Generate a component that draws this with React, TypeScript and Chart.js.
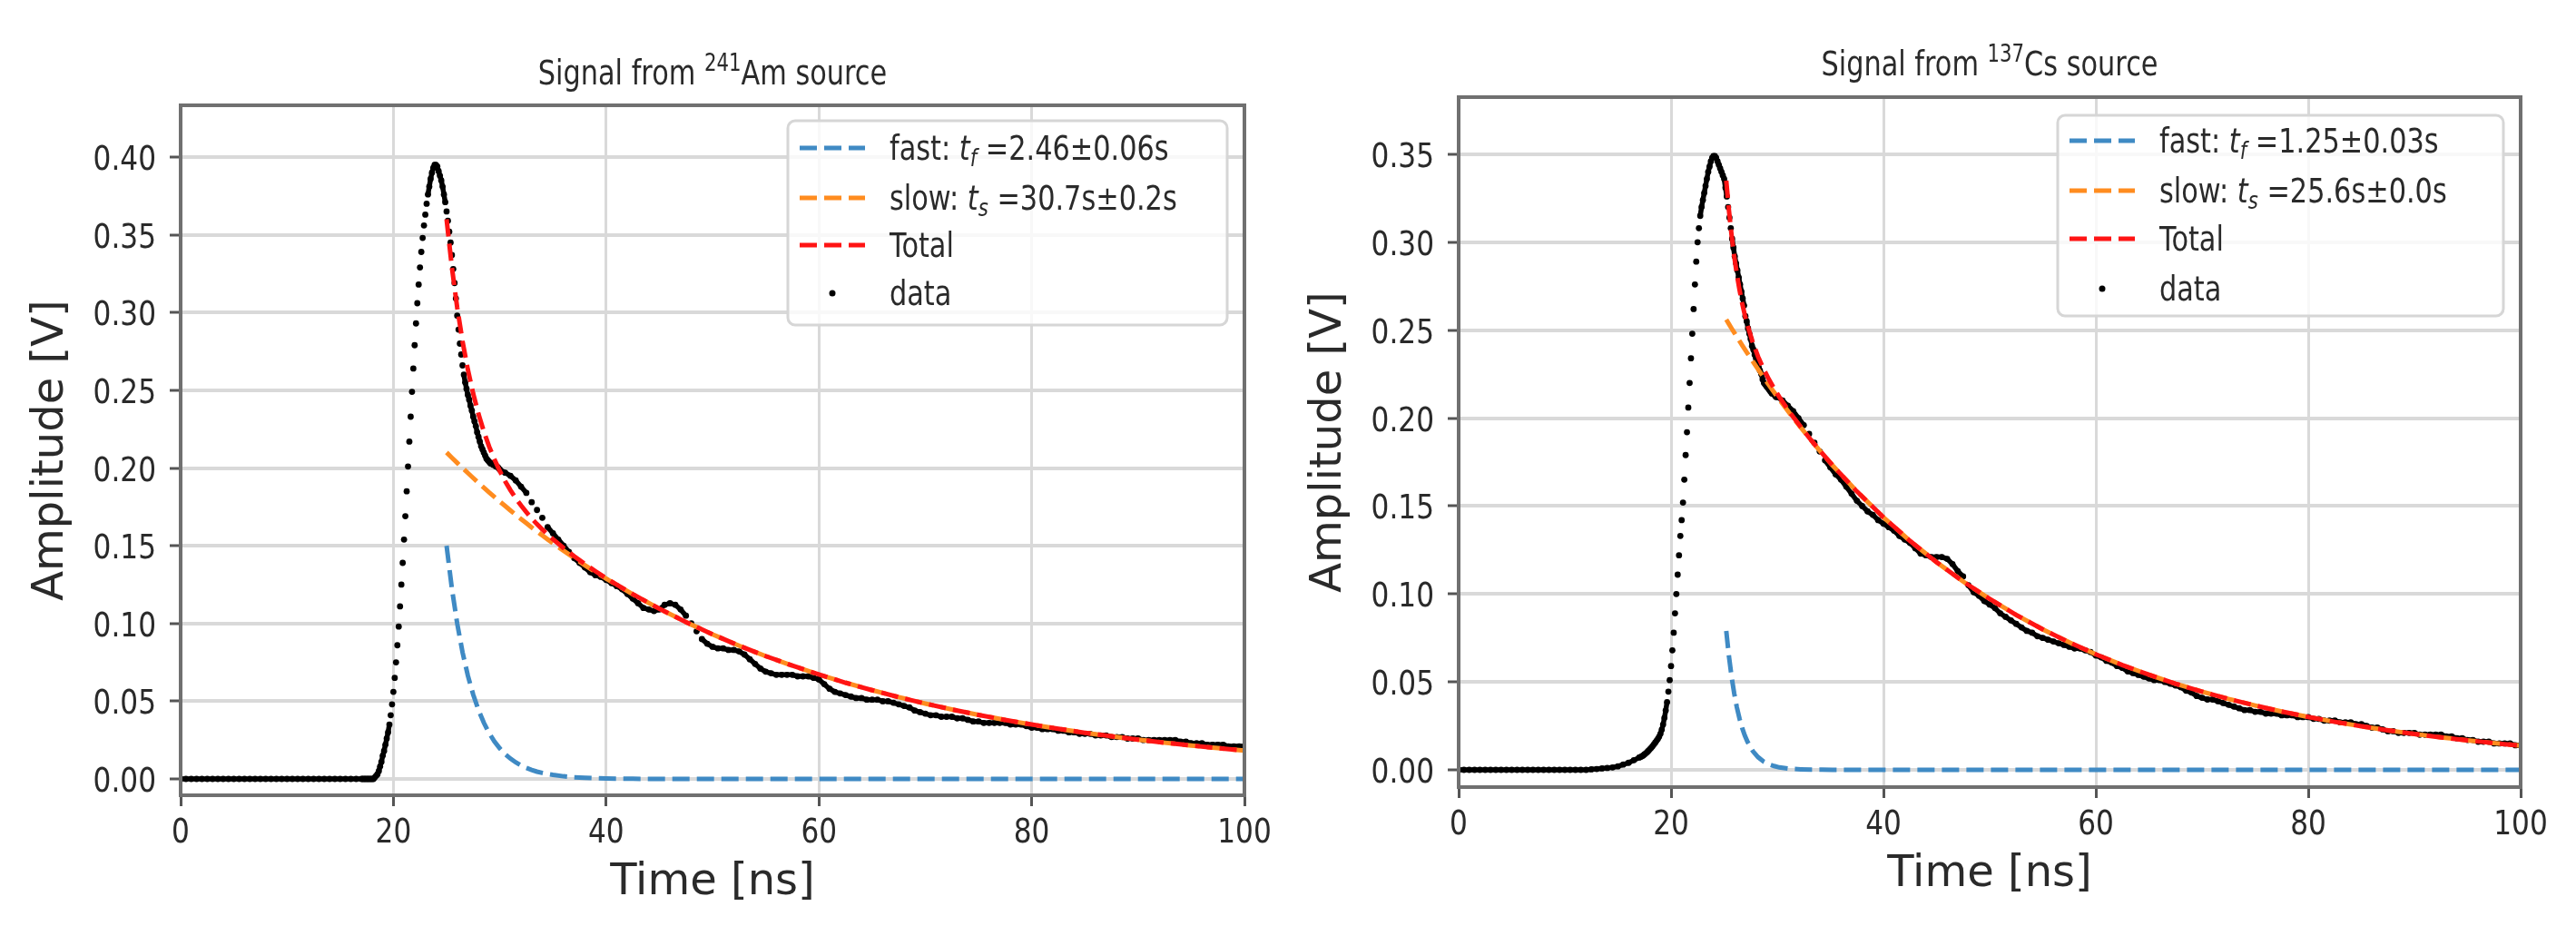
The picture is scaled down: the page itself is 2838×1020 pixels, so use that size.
import React, { useEffect, useRef } from "react";
import { Chart, registerables } from "chart.js";
Chart.register(...registerables);

// ---------------- data ----------------
// oscilloscope sample grid (ns): coarse baseline, fine around the pulse, medium on the tail
function sampleTimes(start: number, step: number, count: number): number[] {
  const out: number[] = [];
  for (let i = 0; i < count; i++) out.push(Math.round((start + i * step) * 1000) / 1000);
  return out;
}
const tData = [...sampleTimes(0, 0.5, 35), ...sampleTimes(17.125, 0.125, 104), ...sampleTimes(30.5, 0.5, 140)];

const amBaseline = [
  0, 0, 0, 0, 0, 0, 0, 0, 0, 0, 0, 0, 0, 0, 0, 0, 0, 0, 0, 0, 0, 0, 0, 0, 0, 0, 0, 0, 0, 0, 0, 0, 0, 0, 0,
];
const amPulse = [
  0, 0, 0, 0, 0, 0, 0, 0,
  0, 0.001, 0.002, 0.003, 0.005, 0.008, 0.011, 0.015,
  0.018, 0.022, 0.026, 0.03, 0.035, 0.041, 0.048, 0.056,
  0.065, 0.075, 0.086, 0.098, 0.111, 0.125, 0.139, 0.154,
  0.169, 0.185, 0.201, 0.217, 0.233, 0.249, 0.264, 0.279,
  0.293, 0.306, 0.318, 0.329, 0.339, 0.348, 0.356, 0.363,
  0.37, 0.376, 0.381, 0.386, 0.39, 0.393, 0.395, 0.395,
  0.394, 0.391, 0.388, 0.385, 0.381, 0.376, 0.371, 0.365,
  0.359, 0.352, 0.345, 0.337, 0.328, 0.319, 0.309, 0.298,
  0.289, 0.28, 0.273, 0.266, 0.26, 0.255, 0.251, 0.247,
  0.244, 0.24, 0.237, 0.233, 0.23, 0.227, 0.223, 0.22,
  0.217, 0.214, 0.212, 0.21, 0.208, 0.206, 0.205, 0.204,
  0.203, 0.203, 0.202, 0.202, 0.201, 0.201, 0.2, 0.199,
];
const amTail = [
  0.197, 0.195, 0.192, 0.188, 0.184, 0.178, 0.173, 0.168, 0.162, 0.158,
  0.154, 0.15, 0.146, 0.142, 0.139, 0.136, 0.133, 0.131, 0.13, 0.128,
  0.126, 0.124, 0.122, 0.119, 0.116, 0.113, 0.11, 0.109, 0.108, 0.109,
  0.112, 0.113, 0.112, 0.109, 0.105, 0.1, 0.095, 0.09, 0.087, 0.085,
  0.084, 0.084, 0.083, 0.083, 0.082, 0.08, 0.077, 0.074, 0.071, 0.069,
  0.068, 0.067, 0.067, 0.067, 0.067, 0.066, 0.066, 0.066, 0.065, 0.064,
  0.061, 0.058, 0.056, 0.055, 0.054, 0.053, 0.052, 0.052, 0.051, 0.051,
  0.051, 0.05, 0.05, 0.049, 0.048, 0.047, 0.046, 0.044, 0.043, 0.042,
  0.041, 0.041, 0.04, 0.04, 0.04, 0.039, 0.039, 0.038, 0.037, 0.037,
  0.036, 0.036, 0.036, 0.036, 0.036, 0.035, 0.035, 0.035, 0.034, 0.033,
  0.033, 0.032, 0.032, 0.032, 0.031, 0.031, 0.03, 0.03, 0.029, 0.029,
  0.029, 0.028, 0.028, 0.028, 0.027, 0.027, 0.027, 0.026, 0.026, 0.026,
  0.025, 0.025, 0.025, 0.025, 0.025, 0.025, 0.025, 0.024, 0.024, 0.023,
  0.023, 0.023, 0.022, 0.022, 0.022, 0.022, 0.021, 0.021, 0.021, 0.021,
];

const csBaseline = [
  0, 0, 0, 0, 0, 0, 0, 0, 0, 0, 0, 0, 0, 0, 0, 0, 0, 0, 0, 0, 0, 0, 0, 0, 0,
  0.0003, 0.0005, 0.0008, 0.0011, 0.0014, 0.002, 0.003, 0.004, 0.0055, 0.007,
];
const csPulse = [
  0.0073, 0.0077, 0.0082, 0.0088, 0.0094, 0.0101, 0.0109, 0.0117,
  0.0125, 0.0134, 0.0144, 0.0154, 0.0165, 0.0175, 0.0188, 0.0205,
  0.0228, 0.0258, 0.0295, 0.0338, 0.0385, 0.0445, 0.051, 0.059,
  0.068, 0.078, 0.089, 0.1, 0.111, 0.122, 0.133, 0.142,
  0.152, 0.165, 0.179, 0.192, 0.206, 0.22, 0.234, 0.248,
  0.262, 0.276, 0.289, 0.3, 0.308, 0.315, 0.32, 0.324,
  0.328, 0.332, 0.336, 0.34, 0.343, 0.346, 0.348, 0.349,
  0.349, 0.348, 0.346, 0.344, 0.342, 0.34, 0.338, 0.336,
  0.331, 0.326, 0.32, 0.314, 0.308, 0.302, 0.297, 0.292,
  0.288, 0.284, 0.28, 0.276, 0.272, 0.268, 0.264, 0.258,
  0.255, 0.251, 0.248, 0.245, 0.241, 0.239, 0.236, 0.234,
  0.231, 0.229, 0.227, 0.225, 0.222, 0.22, 0.219, 0.218,
  0.217, 0.216, 0.215, 0.214, 0.214, 0.213, 0.212, 0.212,
];
const csTail = [
  0.21, 0.207, 0.204, 0.2, 0.196, 0.191, 0.186, 0.181, 0.176, 0.172,
  0.168, 0.165, 0.161, 0.157, 0.153, 0.15, 0.147, 0.145, 0.142, 0.14,
  0.138, 0.136, 0.133, 0.131, 0.129, 0.126, 0.123, 0.122, 0.121, 0.121,
  0.121, 0.12, 0.117, 0.113, 0.11, 0.105, 0.101, 0.099, 0.096, 0.094,
  0.092, 0.089, 0.087, 0.085, 0.083, 0.081, 0.079, 0.078, 0.076, 0.075,
  0.074, 0.073, 0.072, 0.071, 0.07, 0.069, 0.069, 0.068, 0.067, 0.065,
  0.064, 0.062, 0.061, 0.059, 0.058, 0.056, 0.055, 0.054, 0.053, 0.052,
  0.051, 0.051, 0.05, 0.049, 0.048, 0.047, 0.045, 0.044, 0.042, 0.041,
  0.04, 0.04, 0.039, 0.038, 0.037, 0.036, 0.035, 0.034, 0.034, 0.033,
  0.033, 0.032, 0.032, 0.032, 0.031, 0.031, 0.031, 0.03, 0.03, 0.03,
  0.029, 0.029, 0.028, 0.028, 0.028, 0.027, 0.027, 0.027, 0.026, 0.026,
  0.025, 0.024, 0.024, 0.023, 0.022, 0.022, 0.021, 0.021, 0.021, 0.021,
  0.02, 0.02, 0.02, 0.02, 0.02, 0.019, 0.019, 0.018, 0.018, 0.017,
  0.017, 0.016, 0.016, 0.016, 0.015, 0.015, 0.015, 0.015, 0.014, 0.014,
];

// fitted components
const tFitAm = [25, 25.5, 26, 26.5, 27, 27.5, 28, 28.5, 29, 29.5, 30, 30.5, 31, 31.5, 32, 32.5, 33, 33.5, 34, 34.5, 35,
  36, 37, 38, 39, 40, 42.5, 45, 47.5, 50, 52.5, 55, 57.5, 60, 62.5, 65, 67.5, 70, 72.5, 75, 77.5, 80, 82.5, 85, 87.5, 90, 92.5, 95, 97.5, 100];
const fastAm = [0.15, 0.1224, 0.0999, 0.0815, 0.0665, 0.0543, 0.0443, 0.0362, 0.0295, 0.0241, 0.0197, 0.016, 0.0131, 0.0107,
  0.0087, 0.0071, 0.0058, 0.0047, 0.0039, 0.0032, 0.0026, 0.0017, 0.0011, 0.0008, 0.0005, 0.0003, 0.0001,
  0, 0, 0, 0, 0, 0, 0, 0, 0, 0, 0, 0, 0, 0, 0, 0, 0, 0, 0, 0, 0, 0, 0];
const slowAm = [0.21, 0.2066, 0.2033, 0.2, 0.1968, 0.1936, 0.1904, 0.1874, 0.1843, 0.1814, 0.1784, 0.1756, 0.1727, 0.1699,
  0.1672, 0.1645, 0.1618, 0.1592, 0.1566, 0.1541, 0.1516, 0.1468, 0.1421, 0.1375, 0.1331, 0.1288, 0.1188, 0.1095, 0.1009,
  0.093, 0.0857, 0.079, 0.0729, 0.0672, 0.0619, 0.0571, 0.0526, 0.0485, 0.0447, 0.0412, 0.038, 0.035, 0.0323, 0.0297,
  0.0274, 0.0253, 0.0233, 0.0215, 0.0198, 0.0183];
const totalAm = [0.36, 0.329, 0.3032, 0.2815, 0.2633, 0.2479, 0.2347, 0.2236, 0.2138, 0.2055, 0.1981, 0.1916, 0.1858, 0.1806,
  0.1759, 0.1716, 0.1676, 0.1639, 0.1605, 0.1573, 0.1542, 0.1485, 0.1432, 0.1383, 0.1336, 0.1291, 0.1189, 0.1095, 0.1009,
  0.093, 0.0857, 0.079, 0.0729, 0.0672, 0.0619, 0.0571, 0.0526, 0.0485, 0.0447, 0.0412, 0.038, 0.035, 0.0323, 0.0297,
  0.0274, 0.0253, 0.0233, 0.0215, 0.0198, 0.0183];

const tFitCs = [25.2, 25.45, 25.7, 25.95, 26.2, 26.45, 26.7, 26.95, 27.2, 27.7, 28.2, 28.7, 29.2, 29.7, 30.2, 31.2, 32.2, 33.2,
  34.2, 35.2, 37.5, 40, 42.5, 45, 47.5, 50, 52.5, 55, 57.5, 60, 62.5, 65, 67.5, 70, 72.5, 75, 77.5, 80, 82.5, 85, 87.5, 90,
  92.5, 95, 97.5, 100];
const fastCs = [0.079, 0.0647, 0.053, 0.0434, 0.0355, 0.0291, 0.0238, 0.0195, 0.016, 0.0107, 0.0072, 0.0048, 0.0032, 0.0022,
  0.0014, 0.0006, 0.0003, 0.0001, 0.0001, 0,
  0, 0, 0, 0, 0, 0, 0, 0, 0, 0, 0, 0, 0, 0, 0, 0, 0, 0, 0, 0, 0, 0, 0, 0, 0, 0];
const slowCs = [0.256, 0.2535, 0.251, 0.2486, 0.2462, 0.2438, 0.2414, 0.2391, 0.2368, 0.2322, 0.2277, 0.2233, 0.219, 0.2147,
  0.2106, 0.2025, 0.1948, 0.1873, 0.1801, 0.1732, 0.1583, 0.1436, 0.1302, 0.1181, 0.1071, 0.0972, 0.0881, 0.0799, 0.0725,
  0.0657, 0.0596, 0.0541, 0.049, 0.0445, 0.0403, 0.0366, 0.0332, 0.0301, 0.0273, 0.0248, 0.0225, 0.0204, 0.0185, 0.0168,
  0.0152, 0.0138];
const totalCs = [0.335, 0.3182, 0.304, 0.292, 0.2817, 0.2729, 0.2652, 0.2586, 0.2528, 0.2429, 0.2349, 0.2281, 0.2222, 0.2169,
  0.212, 0.2031, 0.1951, 0.1874, 0.1802, 0.1732, 0.1583, 0.1436, 0.1302, 0.1181, 0.1071, 0.0972, 0.0881, 0.0799, 0.0725,
  0.0657, 0.0596, 0.0541, 0.049, 0.0445, 0.0403, 0.0366, 0.0332, 0.0301, 0.0273, 0.0248, 0.0225, 0.0204, 0.0185, 0.0168,
  0.0152, 0.0138];

const xTicks = [0, 20, 40, 60, 80, 100];
const xTickLabels = ["0", "20", "40", "60", "80", "100"];
const yTicksAm = [0, 0.05, 0.1, 0.15, 0.2, 0.25, 0.3, 0.35, 0.4];
const yTickLabelsAm = ["0.00", "0.05", "0.10", "0.15", "0.20", "0.25", "0.30", "0.35", "0.40"];
const yTicksCs = [0, 0.05, 0.1, 0.15, 0.2, 0.25, 0.3, 0.35];
const yTickLabelsCs = ["0.00", "0.05", "0.10", "0.15", "0.20", "0.25", "0.30", "0.35"];

type Seg = { t: string; i?: boolean; sub?: boolean; sup?: boolean };
const titleAm: Seg[] = [{ t: "Signal from " }, { t: "241", sup: true }, { t: "Am source" }];
const titleCs: Seg[] = [{ t: "Signal from " }, { t: "137", sup: true }, { t: "Cs source" }];
const legendAm: Seg[][] = [
  [{ t: "fast: " }, { t: "t", i: true }, { t: "f", i: true, sub: true }, { t: " =2.46±0.06s" }],
  [{ t: "slow: " }, { t: "t", i: true }, { t: "s", i: true, sub: true }, { t: " =30.7s±0.2s" }],
  [{ t: "Total" }],
  [{ t: "data" }],
];
const legendCs: Seg[][] = [
  [{ t: "fast: " }, { t: "t", i: true }, { t: "f", i: true, sub: true }, { t: " =1.25±0.03s" }],
  [{ t: "slow: " }, { t: "t", i: true }, { t: "s", i: true, sub: true }, { t: " =25.6s±0.0s" }],
  [{ t: "Total" }],
  [{ t: "data" }],
];

// ---------------- styling ----------------
const FONT = '"DejaVu Sans", "Noto Sans", sans-serif';
const TEXT = "#2a2a2a";
const SQ = 0.82;
const C_FAST = "#3f8ac4";
const C_SLOW = "#ff8c1f";
const C_TOTAL = "#ff1414";
const GRID = "#d9d9d9";
const SPINE = "#707070";
const H = 1020;

function drawRich(ctx: CanvasRenderingContext2D, segs: Seg[], x: number, y: number, size: number,
  align: "left" | "center" | "right", sq = SQ) {
  ctx.save();
  ctx.fillStyle = TEXT;
  ctx.textBaseline = "alphabetic";
  ctx.textAlign = "left";
  const parts = segs.map((s) => {
    const fs = s.sub || s.sup ? size * 0.7 : size;
    const font = `${s.i ? "italic " : ""}${fs}px ${FONT}`;
    ctx.font = font;
    const dy = s.sub ? size * 0.2 : s.sup ? -size * 0.4 : 0;
    return { t: s.t, font, dy, w: ctx.measureText(s.t).width };
  });
  const total = parts.reduce((a, p) => a + p.w, 0);
  let x0 = align === "center" ? -total / 2 : align === "right" ? -total : 0;
  ctx.translate(x, y);
  ctx.scale(sq, 1);
  for (const p of parts) {
    ctx.font = p.font;
    ctx.fillText(p.t, x0, p.dy);
    x0 += p.w;
  }
  ctx.restore();
}

type Panel = {
  left: number; width: number;
  area: { left: number; right: number; top: number; bottom: number };
  yMin: number; yMax: number; yTicks: number[]; yLabels: string[];
  title: Seg[]; titleBase: number;
  legend: { x: number; y: number; w: number; h: number; rows: number[] };
  legendText: Seg[][];
  data: number[]; tFit: number[]; fast: number[]; slow: number[]; total: number[];
};

const panels: Panel[] = [
  {
    left: 0, width: 1420,
    area: { left: 199, right: 1371, top: 116, bottom: 876 },
    yMin: -0.0105, yMax: 0.4333, yTicks: yTicksAm, yLabels: yTickLabelsAm,
    title: titleAm, titleBase: 93,
    legend: { x: 868, y: 133, w: 484, h: 225, rows: [30, 85, 137, 190] },
    legendText: legendAm,
    data: [...amBaseline, ...amPulse, ...amTail], tFit: tFitAm, fast: fastAm, slow: slowAm, total: totalAm,
  },
  {
    left: 1420, width: 1418,
    area: { left: 187, right: 1357, top: 107, bottom: 867 },
    yMin: -0.0098, yMax: 0.3825, yTicks: yTicksCs, yLabels: yTickLabelsCs,
    title: titleCs, titleBase: 83,
    legend: { x: 847, y: 127, w: 491, h: 221, rows: [28, 83, 136, 191] },
    legendText: legendCs,
    data: [...csBaseline, ...csPulse, ...csTail], tFit: tFitCs, fast: fastCs, slow: slowCs, total: totalCs,
  },
];

function makeChart(canvas: HTMLCanvasElement, p: Panel) {
  const a = p.area;
  const decor = {
    id: "mplDecor",
    afterDatasetsDraw(chart: any) {
      const ctx = chart.ctx as CanvasRenderingContext2D;
      const ca = chart.chartArea;
      ctx.save();
      ctx.strokeStyle = SPINE;
      ctx.lineWidth = 4;
      ctx.strokeRect(ca.left, ca.top, ca.right - ca.left, ca.bottom - ca.top);
      ctx.restore();
    },
    afterDraw(chart: any) {
      const ctx = chart.ctx as CanvasRenderingContext2D;
      const ca = chart.chartArea;
      const xs = chart.scales.x, ys = chart.scales.y;
      const cx = (ca.left + ca.right) / 2;
      // title
      drawRich(ctx, p.title, cx, p.titleBase, 37, "center");
      // tick labels
      xTicks.forEach((v, i) => drawRich(ctx, [{ t: xTickLabels[i] }], xs.getPixelForValue(v), ca.bottom + 52, 38, "center"));
      p.yTicks.forEach((v, i) => drawRich(ctx, [{ t: p.yLabels[i] }], ca.left - 27, ys.getPixelForValue(v) + 14, 38, "right"));
      // axis titles
      drawRich(ctx, [{ t: "Time [ns]" }], cx, ca.bottom + 109, 48, "center", 1);
      ctx.save();
      ctx.translate(ca.left - 142, (ca.top + ca.bottom) / 2);
      ctx.rotate(-Math.PI / 2);
      ctx.font = `48px ${FONT}`;
      ctx.fillStyle = TEXT;
      ctx.textAlign = "center";
      ctx.textBaseline = "middle";
      ctx.fillText("Amplitude [V]", 0, 0);
      ctx.restore();
      // legend
      const L = p.legend;
      ctx.save();
      ctx.beginPath();
      (ctx as any).roundRect(L.x, L.y, L.w, L.h, 8);
      ctx.fillStyle = "rgba(255,255,255,0.8)";
      ctx.fill();
      ctx.strokeStyle = "#d6d6d6";
      ctx.lineWidth = 3;
      ctx.stroke();
      const cols = [C_FAST, C_SLOW, C_TOTAL];
      L.rows.forEach((r, i) => {
        const yy = L.y + r;
        if (i < 3) {
          ctx.beginPath();
          ctx.setLineDash([19, 8]);
          ctx.lineWidth = 5;
          ctx.strokeStyle = cols[i];
          ctx.moveTo(L.x + 13, yy);
          ctx.lineTo(L.x + 85, yy);
          ctx.stroke();
          ctx.setLineDash([]);
        } else {
          ctx.beginPath();
          ctx.fillStyle = "#000";
          ctx.arc(L.x + 49, yy, 3.5, 0, Math.PI * 2);
          ctx.fill();
        }
        drawRich(ctx, p.legendText[i], L.x + 112, yy + 13, 37, "left");
      });
      ctx.restore();
    },
  };

  const fitDs = (vals: number[], color: string) => ({
    data: p.tFit.map((t, i) => ({ x: t, y: vals[i] })),
    borderColor: color,
    borderWidth: 5,
    borderDash: [19, 8],
    pointRadius: 0,
    showLine: true,
    fill: false,
    tension: 0,
  });

  return new Chart(canvas, {
    type: "line",
    data: {
      datasets: [
        fitDs(p.total, C_TOTAL),
        fitDs(p.slow, C_SLOW),
        fitDs(p.fast, C_FAST),
        {
          data: tData.map((t, i) => ({ x: t, y: p.data[i] })),
          showLine: true,
          borderWidth: 5.5,
          borderCapStyle: "round",
          borderColor: "#000",
          // dense samples merge into a solid trace; widely spaced samples stay separate dots
          segment: {
            borderColor: (c: any) =>
              Math.hypot(c.p1.x - c.p0.x, c.p1.y - c.p0.y) < 10 ? "#000" : "rgba(0,0,0,0)",
          },
          pointRadius: 3.4,
          pointBorderWidth: 0,
          pointBackgroundColor: "#000",
          tension: 0,
        },
      ],
    },
    options: {
      animation: false,
      responsive: false,
      devicePixelRatio: 1,
      events: [],
      layout: { padding: { left: 0, right: p.width - a.right, top: a.top, bottom: 0 } },
      plugins: { legend: { display: false }, title: { display: false }, tooltip: { enabled: false } },
      scales: {
        x: {
          type: "linear", min: 0, max: 100,
          afterBuildTicks: (s: any) => { s.ticks = xTicks.map((v) => ({ value: v })); },
          afterFit: (s: any) => { s.height = H - a.bottom; },
          ticks: { display: false },
          grid: { color: GRID, lineWidth: 3, drawTicks: true, tickLength: 12, tickColor: "#555", tickWidth: 3 },
          border: { display: false },
        },
        y: {
          type: "linear", min: p.yMin, max: p.yMax,
          afterBuildTicks: (s: any) => { s.ticks = p.yTicks.map((v) => ({ value: v })); },
          afterFit: (s: any) => { s.width = a.left; },
          ticks: { display: false },
          grid: { color: GRID, lineWidth: 4, drawTicks: true, tickLength: 12, tickColor: "#555", tickWidth: 3 },
          border: { display: false },
        },
      },
    } as any,
    plugins: [decor],
  });
}

function PanelCanvas({ p }: { p: Panel }) {
  const ref = useRef<HTMLCanvasElement | null>(null);
  useEffect(() => {
    if (!ref.current) return;
    const c = makeChart(ref.current, p);
    return () => c.destroy();
  }, [p]);
  return (
    <canvas ref={ref} width={p.width} height={H}
      style={{ position: "absolute", left: p.left, top: 0, width: p.width, height: H }} />
  );
}

export default function App() {
  return (
    <div style={{ position: "fixed", left: 0, top: 0, width: 2838, height: H, background: "#fff", overflow: "hidden" }}>
      {panels.map((p, i) => <PanelCanvas key={i} p={p} />)}
    </div>
  );
}
